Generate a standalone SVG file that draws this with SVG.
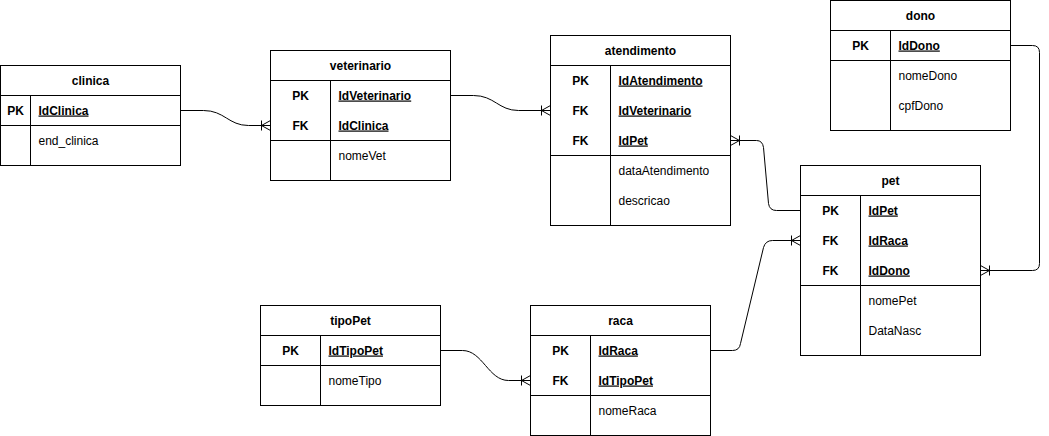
<svg xmlns="http://www.w3.org/2000/svg" width="1049" height="436" viewBox="0 0 1049 436">
<style>
  .box { fill: #ffffff; stroke: #000000; stroke-width: 1; }
  .ln { fill: none; stroke: #000000; stroke-width: 1; }
  .edge { fill: none; stroke: #000000; stroke-width: 1; }
  text { font-family: "Liberation Sans", Arial, Helvetica, sans-serif; font-size: 12px; fill: #000000; }
  .title { font-weight: bold; text-anchor: middle; }
  .key { font-weight: bold; text-anchor: middle; }
  .kf { font-weight: bold; text-decoration: underline; }
</style>
<defs>
  <marker id="oneToMany" markerUnits="userSpaceOnUse" markerWidth="24" markerHeight="24" viewBox="-12 -12 24 24" refX="0" refY="0" orient="auto-start-reverse" overflow="visible">
    <path d="M-9,0 L0,-5 M-9,0 L0,5 M-9,0 L0,0 M-9,-5 L-9,5" fill="none" stroke="#000000" stroke-width="1"/>
  </marker>
</defs>
<rect width="1049" height="436" fill="#ffffff"/>
<g transform="translate(0.5,0.5)">
  <g id="connectors">
    <path class="edge" d="M180,110 L203,110 C224,110 228,125 248,125 L270,125" marker-end="url(#oneToMany)"/>
    <path class="edge" d="M450,95 L473,95 C494,95 498,110 518,110 L550,110" marker-end="url(#oneToMany)"/>
    <path class="edge" d="M730,140 L756,140 Q762,140 763,147 L768,203 Q769,210 776,210 L800,210" marker-start="url(#oneToMany)"/>
    <path class="edge" d="M710,350 L732,350 Q739,350 740,343 L763,247 Q765,240 772,240 L800,240" marker-end="url(#oneToMany)"/>
    <path class="edge" d="M1010,45 L1032,45 Q1039,45 1039,52 L1039,263 Q1039,270 1032,270 L980,270" marker-end="url(#oneToMany)"/>
    <path class="edge" d="M440,350 L462,350 C482,350 488,380 508,380 L530,380" marker-end="url(#oneToMany)"/>
  </g>

  <g id="clinica">
    <rect class="box" x="0" y="65" width="180" height="100"/>
    <path class="ln" d="M0,95 H180 M0,125 H180 M30,95 V165"/>
    <text class="title" x="90" y="84">clinica</text>
    <text class="key" x="15" y="114">PK</text>
    <text class="kf" x="38" y="114">IdClinica</text>
    <text x="38" y="144">end_clinica</text>
  </g>

  <g id="veterinario">
    <rect class="box" x="270" y="50" width="180" height="130"/>
    <path class="ln" d="M270,80 H450 M270,140 H450 M330,80 V180"/>
    <text class="title" x="360" y="69">veterinario</text>
    <text class="key" x="300" y="99">PK</text>
    <text class="kf" x="338" y="99">IdVeterinario</text>
    <text class="key" x="300" y="129">FK</text>
    <text class="kf" x="338" y="129">IdClinica</text>
    <text x="338" y="159">nomeVet</text>
  </g>

  <g id="atendimento">
    <rect class="box" x="550" y="35" width="180" height="190"/>
    <path class="ln" d="M550,65 H730 M550,155 H730 M610,65 V225"/>
    <text class="title" x="640" y="54">atendimento</text>
    <text class="key" x="580" y="84">PK</text>
    <text class="kf" x="618" y="84">IdAtendimento</text>
    <text class="key" x="580" y="114">FK</text>
    <text class="kf" x="618" y="114">IdVeterinario</text>
    <text class="key" x="580" y="144">FK</text>
    <text class="kf" x="618" y="144">IdPet</text>
    <text x="618" y="174">dataAtendimento</text>
    <text x="618" y="204">descricao</text>
  </g>

  <g id="dono">
    <rect class="box" x="830" y="0" width="180" height="130"/>
    <path class="ln" d="M830,30 H1010 M830,60 H1010 M890,30 V130"/>
    <text class="title" x="920" y="19">dono</text>
    <text class="key" x="860" y="49">PK</text>
    <text class="kf" x="898" y="49">IdDono</text>
    <text x="898" y="79">nomeDono</text>
    <text x="898" y="109">cpfDono</text>
  </g>

  <g id="pet">
    <rect class="box" x="800" y="165" width="180" height="190"/>
    <path class="ln" d="M800,195 H980 M800,285 H980 M860,195 V355"/>
    <text class="title" x="890" y="184">pet</text>
    <text class="key" x="830" y="214">PK</text>
    <text class="kf" x="868" y="214">IdPet</text>
    <text class="key" x="830" y="244">FK</text>
    <text class="kf" x="868" y="244">IdRaca</text>
    <text class="key" x="830" y="274">FK</text>
    <text class="kf" x="868" y="274">IdDono</text>
    <text x="868" y="304">nomePet</text>
    <text x="868" y="334">DataNasc</text>
  </g>

  <g id="tipoPet">
    <rect class="box" x="260" y="305" width="180" height="100"/>
    <path class="ln" d="M260,335 H440 M260,365 H440 M320,335 V405"/>
    <text class="title" x="350" y="324">tipoPet</text>
    <text class="key" x="290" y="354">PK</text>
    <text class="kf" x="328" y="354">IdTipoPet</text>
    <text x="328" y="384">nomeTipo</text>
  </g>

  <g id="raca">
    <rect class="box" x="530" y="305" width="180" height="130"/>
    <path class="ln" d="M530,335 H710 M530,395 H710 M590,335 V435"/>
    <text class="title" x="620" y="324">raca</text>
    <text class="key" x="560" y="354">PK</text>
    <text class="kf" x="598" y="354">IdRaca</text>
    <text class="key" x="560" y="384">FK</text>
    <text class="kf" x="598" y="384">IdTipoPet</text>
    <text x="598" y="414">nomeRaca</text>
  </g>
</g>
</svg>
